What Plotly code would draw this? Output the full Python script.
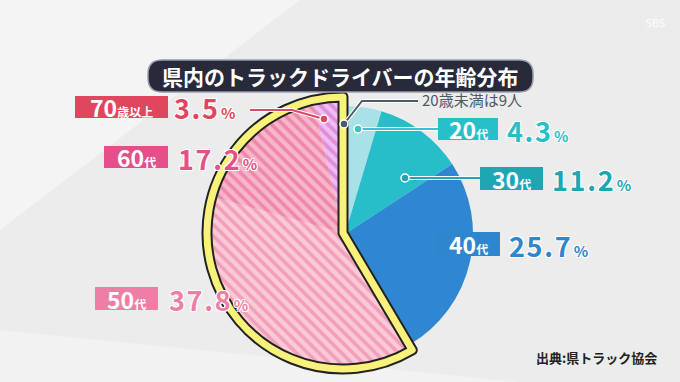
import plotly.graph_objects as go

W, H = 680, 382

# ---- data ----
categories = ["20歳未満", "20代", "30代", "40代", "50代", "60代", "70歳以上"]
shares = [0.3, 4.3, 11.2, 25.7, 37.8, 17.2, 3.5]
young_idx = [0, 1, 2, 3]
old_idx = [4, 5, 6]
pct_labels = ["", "4.3", "11.2", "25.7", "37.8", "17.2", "3.5"]
title_text = "県内のトラックドライバーの年齢分布"
source_text = "出典:県トラック協会"
under20_note = "20歳未満は9人"

young_colors = ["#c6edf0", "#a9e2e6", "#27bdc9", "#2f87d1"]
old_bg = ["#fbcad8", "#f8b6ca", "#f1bcf1"]
old_fg = ["#f2a0ba", "#ee88ab", "#de8edb"]
label_colors = {"20代": "#27bfca", "30代": "#1ea6b2", "40代": "#2e86cf",
                "50代": "#ee7ea6", "60代": "#e5508a", "70歳以上": "#e0465e"}

FONT = "Noto Sans CJK JP"


def px(x):
    return x / W


def py(y):
    return 1 - y / H


def dom(cx, cy, r):
    return dict(x=[px(cx - r), px(cx + r)], y=[py(cy + r), py(cy - r)])


fig = go.Figure()
T = "rgba(0,0,0,0)"

# young part
yc = [young_colors[i] if i in young_idx else T for i in range(len(shares))]
fig.add_trace(go.Pie(values=shares, labels=categories, sort=False, direction="clockwise",
                     rotation=0, marker=dict(colors=yc, line=dict(width=0)),
                     textinfo="none", hoverinfo="skip", showlegend=False,
                     domain=dom(345, 234, 128)))

# older group (enlarged), hatched
gdom = dom(343, 233, 136)
oc = [T] * 4 + old_bg
ofg = [T] * 4 + old_fg
shp = [""] * 4 + ["\\"] * 3
fig.add_trace(go.Pie(values=shares, labels=categories, sort=False, direction="clockwise",
                     rotation=0,
                     marker=dict(colors=oc, line=dict(width=0),
                                 pattern=dict(shape=shp, fgcolor=ofg, bgcolor=oc, fgopacity=1,
                                              fillmode="replace", size=8, solidity=0.45)),
                     textinfo="none", hoverinfo="skip", showlegend=False, domain=gdom))

grp = [sum(shares[i] for i in young_idx), sum(shares[i] for i in old_idx)]
for lw, lc in [(11, "#222222"), (7, "#f9f27a")]:
    fig.add_trace(go.Pie(values=grp, labels=["young", "old"], sort=False, direction="clockwise",
                         rotation=0,
                         marker=dict(colors=[T, T], line=dict(width=[0, lw], color=[T, lc])),
                         textinfo="none", hoverinfo="skip", showlegend=False, domain=gdom))

shapes = []
annotations = []

# background light areas
shapes.append(dict(type="path", xref="paper", yref="paper", layer="below",
                   path=f"M 0 1 L {px(300)} 1 L 0 {py(230)} Z",
                   fillcolor="rgba(255,255,255,0.45)", line=dict(width=0)))
shapes.append(dict(type="path", xref="paper", yref="paper", layer="below",
                   path=f"M 0 0 L 0 {py(330)} L {px(520)} {py(382)} Z",
                   fillcolor="rgba(255,255,255,0.3)", line=dict(width=0)))


def rounded(x0, y0, x1, y1, r):
    p = (f"M {px(x0 + r)} {py(y0)} L {px(x1 - r)} {py(y0)} Q {px(x1)} {py(y0)} {px(x1)} {py(y0 + r)} "
         f"L {px(x1)} {py(y1 - r)} Q {px(x1)} {py(y1)} {px(x1 - r)} {py(y1)} "
         f"L {px(x0 + r)} {py(y1)} Q {px(x0)} {py(y1)} {px(x0)} {py(y1 - r)} "
         f"L {px(x0)} {py(y0 + r)} Q {px(x0)} {py(y0)} {px(x0 + r)} {py(y0)} Z")
    return p


def text(x, y, t, size, color, xanchor="center", shadow=None, family=FONT):
    f = dict(family=family, size=size, color=color)
    if shadow:
        f["shadow"] = shadow
    annotations.append(dict(x=px(x), y=py(y), xref="paper", yref="paper", showarrow=False,
                            xanchor=xanchor, yanchor="middle", text=t, font=f))


# title box
shapes.append(dict(type="path", xref="paper", yref="paper", path=rounded(148, 60, 533, 92, 14),
                   fillcolor="#282a3a", line=dict(color="#9a9ca8", width=1.5)))
text(340, 76, f"<b>{title_text}</b>", 21, "white")

# source
text(596, 357, f"<b>{source_text}</b>", 13, "#222222")

# SBS logo (faint)
text(655, 22, "SBS", 11, "rgba(255,255,255,0.95)", family="Noto Sans")

SH = "1px 1px 0 #fff, -1px -1px 0 #fff, 1px -1px 0 #fff, -1px 1px 0 #fff"

boxes = [
    ("70歳以上", 75, 96, 168, 118, 172, "70", "歳以上"),
    ("60代", 104, 146, 168, 168, 176, "60", "代"),
    ("50代", 95, 287, 158, 310, 167, "50", "代"),
    ("20代", 438, 118, 498, 140, 505, "20", "代"),
    ("30代", 480, 167, 543, 190, 550, "30", "代"),
    ("40代", 437, 232, 500, 256, 507, "40", "代"),
]
for cat, x0, y0, x1, y1, tx, big, small in boxes:
    col = label_colors[cat]
    shapes.append(dict(type="rect", xref="paper", yref="paper", x0=px(x0), x1=px(x1),
                       y0=py(y1), y1=py(y0), fillcolor=col, line=dict(width=0)))
    text((x0 + x1) / 2, (y0 + y1) / 2,
         f"<b>{big}</b><span style='font-size:12px'><b>{small}</b></span>", 23, "white")
    pv = pct_labels[categories.index(cat)]
    spaced = "\u200a".join(pv)
    text(tx, (y0 + y1) / 2 + 1, f"<b>{spaced}</b><span style='font-size:15px'><b>\u2009%</b></span>",
         27, col, xanchor="left", shadow=SH)

# under-20 note
text(420, 100, under20_note, 15, "#4d5b66", xanchor="left")


def poly(points, color, width=2):
    d = "M " + " L ".join(f"{px(x)} {py(y)}" for x, y in points)
    shapes.append(dict(type="path", xref="paper", yref="paper", path=d,
                       line=dict(color="white", width=width + 2)))
    shapes.append(dict(type="path", xref="paper", yref="paper", path=d,
                       line=dict(color=color, width=width)))
    x, y = points[-1]
    shapes.append(dict(type="circle", xref="paper", yref="paper",
                       x0=px(x - 4), x1=px(x + 4), y0=py(y + 4), y1=py(y - 4),
                       fillcolor=color, line=dict(color="white", width=1.5)))


poly([(250, 110), (292, 110), (324, 119)], label_colors["70歳以上"])
poly([(418, 101), (362, 101), (344, 124)], "#4d5b66")
poly([(438, 129), (358, 129)], "#3fc0cc")
poly([(480, 178), (405, 178)], "#20a6b4")

fig.update_layout(width=W, height=H, margin=dict(l=0, r=0, t=0, b=0),
                  paper_bgcolor="#ececec", plot_bgcolor="#ececec",
                  shapes=shapes, annotations=annotations, showlegend=False)

fig.write_html("out.html")
